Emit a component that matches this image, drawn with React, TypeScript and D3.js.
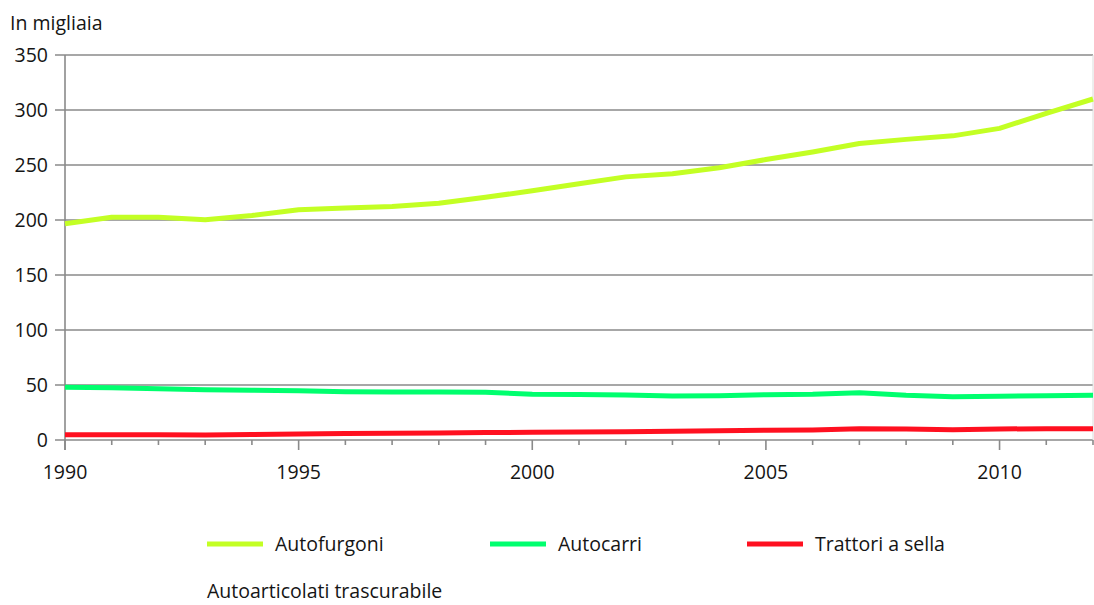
import React from "react";
import * as d3 from "d3";

const years = d3.range(1990, 2013);
const autofurgoni = [196.5, 202.5, 202.5, 200.3, 204, 209.3, 211, 212.2, 215.2, 220.7, 226.5, 233, 239.2, 242, 247.5, 255, 261.8, 269.5, 273.3, 276.5, 283.3, 297, 310];
const autocarri = [48, 47.4, 46.5, 45.6, 45.2, 44.8, 43.9, 43.6, 43.6, 43.3, 41.6, 41.3, 40.9, 40, 40.3, 41.2, 41.5, 43, 40.6, 39.4, 39.7, 40.3, 40.6];
const trattori = [4.8, 4.8, 4.7, 4.6, 5, 5.5, 5.8, 6.1, 6.4, 6.8, 7, 7.3, 7.6, 7.9, 8.3, 8.8, 9.1, 10.3, 10, 9.4, 10, 10.3, 10.3];
const yTicks = [0, 50, 100, 150, 200, 250, 300, 350];
const xLabels = [1990, 1995, 2000, 2005, 2010];
const seriesNames = ["Autofurgoni", "Autocarri", "Trattori a sella"];
const seriesColors = ["#c3ff24", "#00ff6e", "#ff1020"];
const footnote = "Autoarticolati trascurabile";
const yTitle = "In migliaia";

export default function App() {
  const W = 1094, H = 605;
  const left = 65, right = 1093, top = 55, bottom = 440;
  const x = d3.scaleLinear().domain([1990, 2012]).range([left, right]);
  const y = d3.scaleLinear().domain([0, 350]).range([bottom, top]);
  const line = d3.line<number>().x((_, i) => x(years[i])).y((d) => y(d));
  const series = [autofurgoni, autocarri, trattori];
  const font = "'Open Sans', sans-serif";
  const fs = 19.5;
  const legendX = [207, 490, 747];
  return (
    <svg width={W} height={H} style={{ position: "absolute", left: 0, top: 0, background: "#fff" }} fontFamily={font}>
      <text x={10} y={30} fontSize={fs} fill="#151515">{yTitle}</text>
      {yTicks.map((t) => (
        <g key={t}>
          <line x1={55} x2={right} y1={y(t)} y2={y(t)} stroke="#8a8a8a" strokeWidth={1.6} />
          <text x={48} y={y(t)} dy="0.36em" textAnchor="end" fontSize={fs} fill="#151515">{t}</text>
        </g>
      ))}
      <line x1={right} x2={right} y1={top} y2={bottom} stroke="#dcdcdc" strokeWidth={1} />
      <line x1={left} x2={left} y1={top} y2={bottom + 10} stroke="#8a8a8a" strokeWidth={1.6} />
      {years.map((yr) => (
        <line key={yr} x1={x(yr)} x2={x(yr)} y1={bottom} y2={bottom + ((yr - 1990) % 5 === 0 ? 10 : 5)} stroke="#8a8a8a" strokeWidth={1.6} />
      ))}
      {xLabels.map((yr) => (
        <text key={yr} x={x(yr)} y={479} textAnchor="middle" fontSize={fs} fill="#151515">{yr}</text>
      ))}
      {series.map((s, i) => (
        <path key={i} d={line(s) || ""} fill="none" stroke={seriesColors[i]} strokeWidth={5} strokeLinejoin="round" />
      ))}
      {seriesNames.map((n, i) => (
        <g key={n}>
          <line x1={legendX[i]} x2={legendX[i] + 56} y1={544} y2={544} stroke={seriesColors[i]} strokeWidth={5} />
          <text x={legendX[i] + 68} y={551} fontSize={fs} fill="#151515">{n}</text>
        </g>
      ))}
      <text x={207} y={598} fontSize={fs} fill="#151515">{footnote}</text>
    </svg>
  );
}
